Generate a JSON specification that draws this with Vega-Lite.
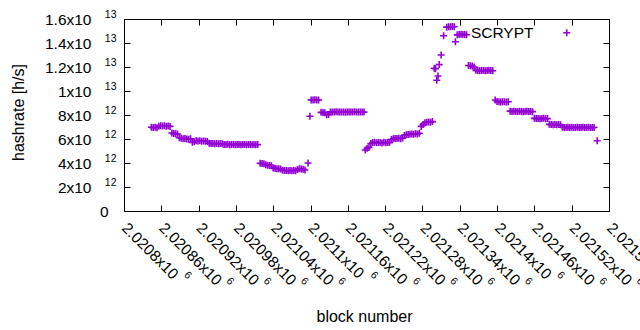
{
"$schema": "https://vega.github.io/schema/vega-lite/v6.json",
"width": 485, "height": 192,
"autosize": {"type": "none"},
"padding": {"left": 124, "top": 19, "right": 31, "bottom": 119},
"background": "white",
"config": {
  "font": "Liberation Sans",
  "view": {"stroke": "black", "strokeWidth": 1},
  "axis": {"grid": false, "domain": false, "tickColor": "black", "labelColor": "black", "titleColor": "black", "titleFontWeight": "normal", "labelFont": "Liberation Sans", "titleFont": "Liberation Sans", "labelOverlap": false, "labelFlush": false, "labelBound": false}
},
"data": {"values": [
{"b":2020844,"h":6.98e12},{"b":2020847,"h":6.95e12},{"b":2020850,"h":6.97e12},{"b":2020853,"h":6.94e12},
{"b":2020856,"h":7.06e12},{"b":2020859,"h":7.1e12},{"b":2020862,"h":7.08e12},{"b":2020865,"h":7.1e12},{"b":2020868,"h":7.07e12},{"b":2020871,"h":7.09e12},{"b":2020874,"h":7.05e12},
{"b":2020877,"h":6.5e12},{"b":2020880,"h":6.45e12},{"b":2020883,"h":6.44e12},{"b":2020886,"h":6.42e12},
{"b":2020889,"h":6.1e12},{"b":2020892,"h":6.06e12},{"b":2020895,"h":6.02e12},{"b":2020898,"h":6.05e12},{"b":2020901,"h":6.0e12},{"b":2020904,"h":5.98e12},{"b":2020907,"h":6.02e12},
{"b":2020910,"h":5.72e12},{"b":2020913,"h":5.78e12},
{"b":2020916,"h":5.85e12},{"b":2020919,"h":5.83e12},{"b":2020922,"h":5.86e12},{"b":2020925,"h":5.82e12},{"b":2020928,"h":5.84e12},{"b":2020931,"h":5.81e12},{"b":2020934,"h":5.8e12},
{"b":2020937,"h":5.64e12},{"b":2020940,"h":5.62e12},{"b":2020943,"h":5.63e12},{"b":2020946,"h":5.6e12},{"b":2020949,"h":5.62e12},{"b":2020952,"h":5.61e12},{"b":2020955,"h":5.63e12},{"b":2020958,"h":5.6e12},
{"b":2020961,"h":5.55e12},{"b":2020964,"h":5.54e12},{"b":2020967,"h":5.56e12},{"b":2020970,"h":5.53e12},{"b":2020973,"h":5.55e12},{"b":2020976,"h":5.54e12},{"b":2020979,"h":5.52e12},{"b":2020982,"h":5.55e12},{"b":2020985,"h":5.54e12},{"b":2020988,"h":5.53e12},{"b":2020991,"h":5.55e12},{"b":2020994,"h":5.54e12},{"b":2020997,"h":5.52e12},{"b":2021000,"h":5.54e12},{"b":2021003,"h":5.55e12},{"b":2021006,"h":5.53e12},{"b":2021009,"h":5.54e12},{"b":2021012,"h":5.52e12},{"b":2021015,"h":5.54e12},
{"b":2021019,"h":3.98e12},{"b":2021022,"h":3.95e12},{"b":2021025,"h":3.94e12},
{"b":2021028,"h":3.85e12},{"b":2021031,"h":3.82e12},{"b":2021034,"h":3.8e12},{"b":2021037,"h":3.78e12},
{"b":2021040,"h":3.58e12},{"b":2021043,"h":3.55e12},{"b":2021046,"h":3.53e12},{"b":2021049,"h":3.52e12},{"b":2021052,"h":3.5e12},
{"b":2021055,"h":3.4e12},{"b":2021058,"h":3.38e12},{"b":2021061,"h":3.37e12},{"b":2021064,"h":3.36e12},{"b":2021067,"h":3.37e12},{"b":2021070,"h":3.35e12},{"b":2021073,"h":3.38e12},{"b":2021076,"h":3.36e12},
{"b":2021079,"h":3.45e12},{"b":2021082,"h":3.52e12},{"b":2021085,"h":3.5e12},{"b":2021088,"h":3.47e12},{"b":2021091,"h":3.42e12},
{"b":2021096,"h":4.0e12},
{"b":2021099,"h":7.9e12},
{"b":2021101,"h":9.26e12},{"b":2021104,"h":9.25e12},{"b":2021107,"h":9.27e12},{"b":2021110,"h":9.24e12},{"b":2021113,"h":9.25e12},
{"b":2021117,"h":8.22e12},{"b":2021120,"h":8.2e12},{"b":2021123,"h":8.18e12},{"b":2021126,"h":8.02e12},{"b":2021129,"h":8.05e12},
{"b":2021132,"h":8.26e12},{"b":2021135,"h":8.24e12},{"b":2021138,"h":8.25e12},{"b":2021141,"h":8.27e12},{"b":2021144,"h":8.25e12},{"b":2021147,"h":8.24e12},{"b":2021150,"h":8.26e12},{"b":2021153,"h":8.25e12},{"b":2021156,"h":8.23e12},{"b":2021159,"h":8.25e12},{"b":2021162,"h":8.26e12},{"b":2021165,"h":8.24e12},{"b":2021168,"h":8.25e12},{"b":2021171,"h":8.27e12},{"b":2021174,"h":8.25e12},{"b":2021177,"h":8.24e12},{"b":2021180,"h":8.26e12},{"b":2021183,"h":8.25e12},{"b":2021186,"h":8.24e12},
{"b":2021188,"h":5.08e12},{"b":2021191,"h":5.22e12},{"b":2021194,"h":5.3e12},
{"b":2021197,"h":5.62e12},{"b":2021200,"h":5.7e12},{"b":2021203,"h":5.72e12},{"b":2021206,"h":5.68e12},{"b":2021209,"h":5.71e12},{"b":2021212,"h":5.7e12},{"b":2021215,"h":5.66e12},{"b":2021218,"h":5.72e12},{"b":2021221,"h":5.69e12},{"b":2021224,"h":5.71e12},{"b":2021227,"h":5.7e12},
{"b":2021230,"h":5.95e12},{"b":2021233,"h":6.02e12},{"b":2021236,"h":6.05e12},{"b":2021239,"h":6.04e12},{"b":2021242,"h":6.06e12},{"b":2021245,"h":6.03e12},{"b":2021248,"h":6.08e12},
{"b":2021251,"h":6.3e12},{"b":2021254,"h":6.35e12},{"b":2021257,"h":6.38e12},{"b":2021260,"h":6.4e12},{"b":2021263,"h":6.42e12},{"b":2021266,"h":6.4e12},{"b":2021269,"h":6.44e12},{"b":2021272,"h":6.42e12},{"b":2021275,"h":6.48e12},
{"b":2021278,"h":7.05e12},{"b":2021281,"h":7.2e12},
{"b":2021284,"h":7.35e12},{"b":2021287,"h":7.4e12},{"b":2021290,"h":7.42e12},{"b":2021293,"h":7.4e12},{"b":2021296,"h":7.45e12},
{"b":2021299,"h":1.19e13},{"b":2021301,"h":1.185e13},{"b":2021303,"h":1.09e13},{"b":2021305,"h":1.125e13},{"b":2021307,"h":1.22e13},{"b":2021310,"h":1.3e13},{"b":2021314,"h":1.46e13},
{"b":2021319,"h":1.532e13},{"b":2021322,"h":1.536e13},{"b":2021325,"h":1.535e13},{"b":2021328,"h":1.538e13},{"b":2021331,"h":1.536e13},
{"b":2021333,"h":1.41e13},
{"b":2021336,"h":1.468e13},{"b":2021339,"h":1.47e13},{"b":2021342,"h":1.472e13},{"b":2021345,"h":1.47e13},{"b":2021348,"h":1.471e13},{"b":2021351,"h":1.469e13},
{"b":2021354,"h":1.212e13},{"b":2021357,"h":1.21e13},{"b":2021360,"h":1.208e13},{"b":2021363,"h":1.2e13},
{"b":2021366,"h":1.172e13},{"b":2021369,"h":1.17e13},{"b":2021372,"h":1.168e13},{"b":2021375,"h":1.17e13},{"b":2021378,"h":1.171e13},{"b":2021381,"h":1.169e13},{"b":2021384,"h":1.17e13},{"b":2021387,"h":1.172e13},{"b":2021390,"h":1.17e13},{"b":2021393,"h":1.169e13},
{"b":2021397,"h":9.25e12},{"b":2021400,"h":9.12e12},{"b":2021403,"h":9.1e12},{"b":2021406,"h":9.08e12},{"b":2021409,"h":9.1e12},{"b":2021412,"h":9.11e12},{"b":2021415,"h":9.09e12},{"b":2021418,"h":9.1e12},
{"b":2021421,"h":8.32e12},{"b":2021424,"h":8.3e12},{"b":2021427,"h":8.31e12},{"b":2021430,"h":8.29e12},{"b":2021433,"h":8.3e12},{"b":2021436,"h":8.32e12},{"b":2021439,"h":8.3e12},{"b":2021442,"h":8.28e12},{"b":2021445,"h":8.3e12},{"b":2021448,"h":8.31e12},{"b":2021451,"h":8.29e12},{"b":2021454,"h":8.3e12},{"b":2021457,"h":8.28e12},
{"b":2021460,"h":7.72e12},{"b":2021463,"h":7.7e12},{"b":2021466,"h":7.71e12},{"b":2021469,"h":7.68e12},{"b":2021472,"h":7.7e12},{"b":2021475,"h":7.72e12},{"b":2021478,"h":7.69e12},{"b":2021481,"h":7.7e12},
{"b":2021484,"h":7.22e12},{"b":2021487,"h":7.2e12},{"b":2021490,"h":7.18e12},{"b":2021493,"h":7.21e12},{"b":2021496,"h":7.19e12},{"b":2021499,"h":7.2e12},{"b":2021502,"h":7.18e12},
{"b":2021505,"h":6.98e12},{"b":2021508,"h":6.96e12},{"b":2021511,"h":6.95e12},{"b":2021514,"h":6.97e12},{"b":2021517,"h":6.96e12},{"b":2021520,"h":6.98e12},{"b":2021523,"h":6.95e12},{"b":2021526,"h":6.96e12},{"b":2021529,"h":6.97e12},{"b":2021532,"h":6.95e12},{"b":2021535,"h":6.96e12},{"b":2021538,"h":6.98e12},{"b":2021541,"h":6.96e12},{"b":2021544,"h":6.95e12},{"b":2021547,"h":6.97e12},{"b":2021550,"h":6.96e12},{"b":2021553,"h":6.95e12},{"b":2021556,"h":6.96e12},
{"b":2021561,"h":5.86e12}
]},
"resolve": {"axis": {"x": "independent", "y": "independent"}},
"layer": [
{
  "mark": {"type": "point", "shape": "M-1,0H1M0,-1V1", "size": 49, "filled": false, "strokeWidth": 1.6, "opacity": 1},
  "encoding": {
    "x": {"field": "b", "type": "quantitative", "scale": {"domain": [2020800, 2021580], "nice": false, "zero": false},
      "axis": {"orient": "bottom", "values": [2020800,2020860,2020920,2020980,2021040,2021100,2021160,2021220,2021280,2021340,2021400,2021460,2021520,2021580],
        "labelExpr": "format(datum.value/1e6, '.6~f') + 'x10'", "labelAngle": 45, "labelAlign": "left", "labelBaseline": "middle",
        "labelFontSize": 15.5, "labelPadding": 20, "labelOffset": 0, "tickSize": -6,
        "title": "block number", "titleFontSize": 16, "titleX": 240, "titleAlign": "center", "titleY": 105, "titleBaseline": "middle"}},
    "y": {"field": "h", "type": "quantitative", "scale": {"domain": [0, 1.6e13], "nice": false, "zero": true},
      "axis": {"orient": "left", "values": [0,2e12,4e12,6e12,8e12,1e13,1.2e13,1.4e13,1.6e13],
        "labelExpr": "datum.value == 0 ? '0' : (datum.value < 1e13 ? format(datum.value/1e12, '.2~f') : format(datum.value/1e13, '.2~f')) + 'x10'",
        "labelFontSize": 15.5, "labelBaseline": "middle", "labelAlign": "right",
        "labelPadding": {"condition": {"test": "datum.value == 0", "value": 22}, "value": 39}, "tickSize": -6,
        "title": "hashrate [h/s]", "titleFontSize": 16, "titleX": -106, "titleY": 93, "titleBaseline": "middle", "titleAlign": "center"}},
    "color": {"datum": "SCRYPT", "scale": {"range": ["#9400d3"]},
      "legend": {"title": null, "orient": "none", "legendX": 435, "legendY": 6, "padding": 0, "symbolType": "M-1,0H1M0,-1V1", "symbolSize": 49, "symbolStrokeWidth": 1.6,
        "labelFontSize": 15.5, "labelColor": "black", "labelAlign": "right", "labelOffset": -41}}
  }
},
{
  "mark": {"type": "point", "opacity": 0},
  "encoding": {
    "x": {"field": "b", "type": "quantitative",
      "axis": {"orient": "bottom", "values": [2020800,2020860,2020920,2020980,2021040,2021100,2021160,2021220,2021280,2021340,2021400,2021460,2021520,2021580],
        "labelExpr": "'6'", "labelAngle": 45, "labelAlign": "left", "labelBaseline": "middle", "labelFontSize": 10.5, "ticks": false,
        "labelOffset": {"condition": {"test": "datum.value % 300 == 0", "value": 61}, "value": 66},
        "labelPadding": {"condition": {"test": "datum.value % 300 == 0", "value": 62}, "value": 68},
        "title": null}},
    "y": {"field": "h", "type": "quantitative",
      "axis": {"orient": "left", "values": [2e12,4e12,6e12,8e12,1e13,1.2e13,1.4e13,1.6e13],
        "labelExpr": "datum.value < 1e13 ? '12' : '13'", "labelFontSize": 10.5, "labelAlign": "right", "labelBaseline": "middle",
        "labelPadding": 8, "labelOffset": -4.5, "ticks": false, "title": null}}
  }
},
{
  "mark": {"type": "point", "opacity": 0},
  "encoding": {
    "x": {"field": "b", "type": "quantitative",
      "axis": {"orient": "top", "values": [2020800,2020860,2020920,2020980,2021040,2021100,2021160,2021220,2021280,2021340,2021400,2021460,2021520,2021580],
        "labels": false, "tickSize": -6, "title": null}},
    "y": {"field": "h", "type": "quantitative",
      "axis": {"orient": "right", "values": [0,2e12,4e12,6e12,8e12,1e13,1.2e13,1.4e13,1.6e13], "labels": false, "tickSize": -6, "title": null}}
  }
}
]
}
